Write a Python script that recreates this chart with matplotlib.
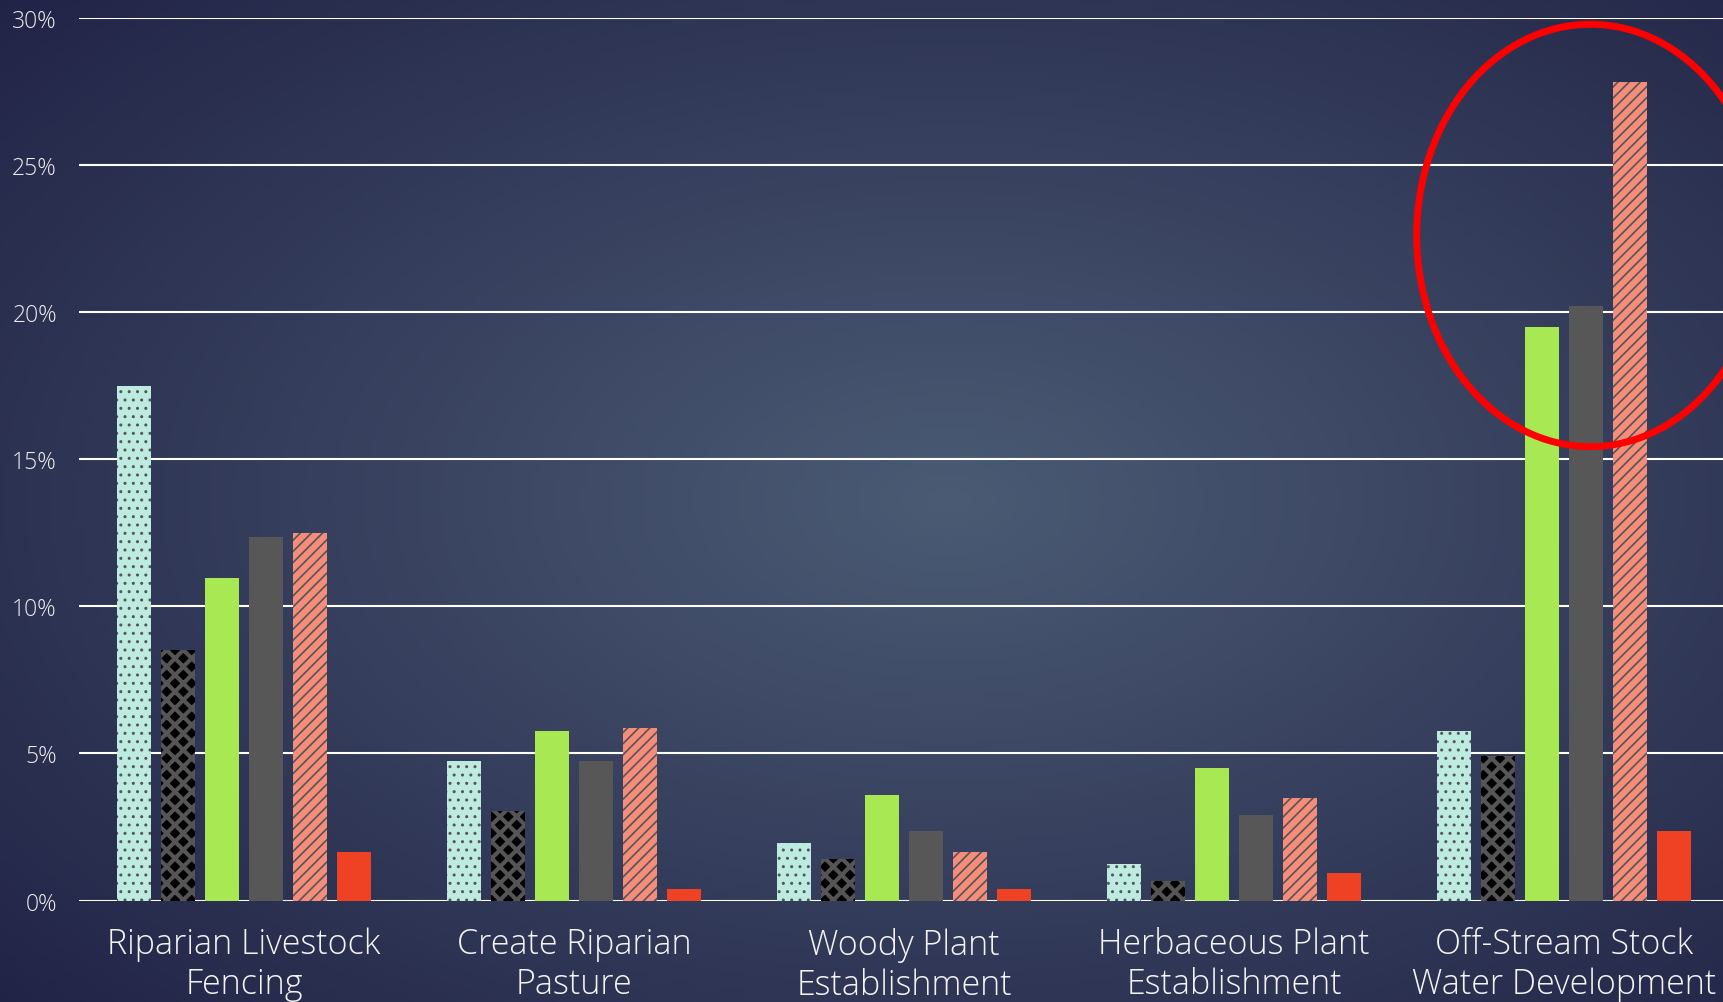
import numpy as np
import matplotlib
matplotlib.use('Agg')
import matplotlib.pyplot as plt
from matplotlib.patches import Ellipse

# Data (percent)
categories = ['Riparian Livestock\nFencing', 'Create Riparian\nPasture',
              'Woody Plant\nEstablishment', 'Herbaceous Plant\nEstablishment',
              'Off-Stream Stock\nWater Development']
series_1 = [17.5, 4.75, 1.95, 1.25, 5.75]
series_2 = [8.5, 3.05, 1.4, 0.65, 4.9]
series_3 = [10.95, 5.75, 3.6, 4.5, 19.5]
series_4 = [12.35, 4.75, 2.35, 2.9, 20.2]
series_5 = [12.5, 5.85, 1.65, 3.5, 27.8]
series_6 = [1.65, 0.4, 0.4, 0.95, 2.35]
y_ticks = [0, 5, 10, 15, 20, 25, 30]
y_tick_labels = ['0%', '5%', '10%', '15%', '20%', '25%', '30%']

all_series = [series_1, series_2, series_3, series_4, series_5, series_6]
face_colors = ['#BDEBE0', '#000000', '#A8E852', '#575757', '#F58D7A', '#EF4123']
hatches = ['..', 'xx', None, None, '///', None]
hatch_lw = [1.0, 3.0, 1.0, 1.0, 1.2, 1.0]

plt.rcParams['hatch.linewidth'] = 1.2
plt.rcParams['font.family'] = ['Open Sans', 'DejaVu Sans']

fig = plt.figure(figsize=(17.24, 10.03), dpi=100)

# radial gradient background
bg = fig.add_axes([0, 0, 1, 1], zorder=-10)
gx, gy = np.meshgrid(np.linspace(0, 1, 400), np.linspace(0, 1, 240))
r = np.sqrt(((gx - 0.55) / 0.75) ** 2 + ((gy - 0.50) / 0.75) ** 2)
r = np.clip(r, 0, 1)
c_in = np.array([0x4B, 0x5B, 0x74]) / 255
c_out = np.array([0x21, 0x23, 0x46]) / 255
img = c_in[None, None, :] * (1 - r[..., None]) + c_out[None, None, :] * r[..., None]
bg.imshow(img, extent=[0, 1, 0, 1], aspect='auto', origin='upper')
bg.axis('off')

ax = fig.add_axes([0.0459, 0.1011, 0.957, 0.8803])
ax.set_facecolor('none')

x = np.arange(len(categories))
bar_w = 0.105
step = 0.1333
for i, vals in enumerate(all_series):
    off = (i - 2.5) * step
    bars = ax.bar(x + off, vals, width=bar_w, color=face_colors[i],
                  hatch=hatches[i],
                  edgecolor='#555555' if hatches[i] else face_colors[i],
                  linewidth=0, zorder=3)
    if hatches[i]:
        for b in bars:
            if hasattr(b, 'set_hatch_linewidth'):
                b.set_hatch_linewidth(hatch_lw[i])

ax.set_xlim(-0.5, 4.5)
ax.set_ylim(0, 30)
ax.set_yticks(y_ticks)
ax.set_yticklabels(y_tick_labels)
ax.set_xticks(x)
ax.set_xticklabels(categories, linespacing=1.2, fontweight='light')
for t in ax.get_yticklabels():
    t.set_fontweight('light')
ax.tick_params(axis='y', length=0, pad=16, labelsize=16.5, labelcolor='#EDEDED')
ax.tick_params(axis='x', length=0, pad=19, labelsize=24.5, labelcolor='#F4F4F4')
ax.grid(axis='y', color='white', linewidth=1.5, zorder=1)
ax.set_axisbelow(True)
for s in ax.spines.values():
    s.set_visible(False)

# red highlight ring around the last group
ring = Ellipse((4.08, 22.6), 1.053, 14.35, fill=False, edgecolor='#FF0000',
               linewidth=5, zorder=5, clip_on=False)
ax.add_patch(ring)

fig.savefig('out.png', dpi=100)
